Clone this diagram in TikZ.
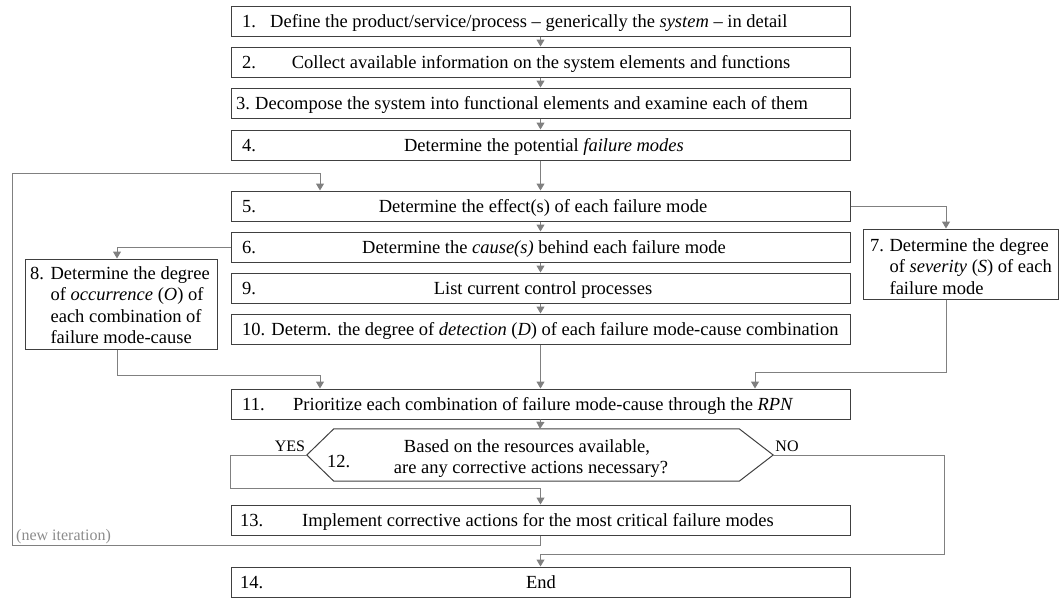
\documentclass[tikz,border=0pt]{standalone}
\usepackage{fontspec}
\setmainfont{Liberation Serif}
\usetikzlibrary{arrows.meta,calc}
\definecolor{boxc}{HTML}{404040}
\definecolor{arrc}{HTML}{808080}
\definecolor{itc}{HTML}{8C8C8C}
\begin{document}
\begin{tikzpicture}[x=1pt,y=-1pt,
  box/.style={draw=boxc, line width=1pt, minimum width=619pt, minimum height=30pt, inner sep=0pt},
  sbox/.style={draw=boxc, line width=1pt, inner sep=0pt},
  txt/.style={font=\fontsize{18.5}{21.5}\selectfont, inner sep=0pt},
  lbl/.style={font=\fontsize{16}{19}\selectfont, inner sep=0pt},
  arr/.style={draw=arrc, line width=1pt, -{Triangle[width=8pt,length=7pt]}},
  ln/.style={draw=arrc, line width=1pt}]
\useasboundingbox (0,0) rectangle (1059,598);

% main boxes
\node[box] (b1) at (540.5,21) {};
\node[box] (b2) at (540.5,62) {};
\node[box] (b3) at (540.5,103) {};
\node[box] (b4) at (540.5,145) {};
\node[box] (b5) at (540.5,206) {};
\node[box] (b6) at (540.5,247) {};
\node[box] (b9) at (540.5,288) {};
\node[box] (b10) at (540.5,329) {};
\node[box] (b11) at (540.5,404) {};
\node[box] (b13) at (540.5,520) {};
\node[box] (b14) at (540.5,582) {};
\node[sbox, minimum width=195pt, minimum height=70pt] (b7) at (960.5,264) {};
\node[sbox, minimum width=192pt, minimum height=90pt] (b8) at (121,304) {};
\node[inner sep=0pt, minimum width=466pt, minimum height=52pt] (d12) at (540,455) {};
\draw[draw=boxc, line width=1pt] (d12.west) -- ($(d12.north west)+(27,0)$) -- ($(d12.north east)+(-34,0)$) -- (d12.east) -- ($(d12.south east)+(-34,0)$) -- ($(d12.south west)+(27,0)$) -- cycle;

% texts
\node[txt, anchor=base west] (n1) at (242,27.5) {1.};
\node[txt, anchor=base west] (t1) at (270,27.5) {Define the product/service/process -- generically the \textit{system} -- in detail};
\node[txt, anchor=base west] (n2) at (242,68.5) {2.};
\node[txt, anchor=base] (t2) at (541,68.5) {Collect available information on the system elements and functions};
\node[txt, anchor=base west] (n3) at (236,109.5) {3.};
\node[txt, anchor=base west] (t3) at (255,109.5) {Decompose the system into functional elements and examine each of them};
\node[txt, anchor=base west] (n4) at (242,151.5) {4.};
\node[txt, anchor=base] (t4) at (544,151.5) {Determine the potential \textit{failure modes}};
\node[txt, anchor=base west] (n5) at (242,212.5) {5.};
\node[txt, anchor=base] (t5) at (543,212.5) {Determine the effect(s) of each failure mode};
\node[txt, anchor=base west] (n6) at (242,253.5) {6.};
\node[txt, anchor=base] (t6) at (544,253.5) {Determine the \textit{cause(s)} behind each failure mode};
\node[txt, anchor=base west] (n9) at (242,294.5) {9.};
\node[txt, anchor=base] (t9) at (543,294.5) {List current control processes};
\node[txt, anchor=base west] (t10) at (242,335.5) {10. Determ. the degree of \textit{detection} (\textit{D}) of each failure mode-cause combination};
\node[txt, anchor=base west] (n11) at (242,410.5) {11.};
\node[txt, anchor=base west] (t11) at (293,410.5) {Prioritize each combination of failure mode-cause through the \textit{RPN}};
\node[txt, anchor=base west] (n13) at (240,526.5) {13.};
\node[txt, anchor=base west] (t13) at (302,526.5) {Implement corrective actions for the most critical failure modes};
\node[txt, anchor=base west] (n14) at (240,588.5) {14.};
\node[txt, anchor=base] (t14) at (541,588.5) {End};

\node[txt, anchor=north west] (t7) at (870,236) {\begin{tabular}{@{}l@{\hspace{5.5pt}}l@{}}7. & Determine the degree\\ & of \textit{severity} (\textit{S}) of each\\ & failure mode\end{tabular}};
\node[txt, anchor=north west] (t8) at (30,264) {\begin{tabular}{@{}l@{\hspace{6.5pt}}l@{}}8. & Determine the degree\\ & of \textit{occurrence} (\textit{O}) of\\ & each combination of\\ & failure mode-cause\end{tabular}};

\node[txt, anchor=base west] (n12) at (327,467) {12.};
\node[txt, anchor=base] (t12a) at (527,452) {Based on the resources available,};
\node[txt, anchor=base] (t12b) at (531,473) {are any corrective actions necessary?};
\node[lbl, anchor=base] (yes) at (290,451) {YES};
\node[lbl, anchor=base] (no) at (787,451) {NO};
\node[lbl, anchor=base west, text=itc] (iter) at (16,540) {(new iteration)};

% connectors
\draw[arr] (b1.south) -- (b2.north);
\draw[arr] (b2.south) -- (b3.north);
\draw[arr] (b3.south) -- (b4.north);
\draw[arr] (b4.south) -- (b5.north);
\draw[arr] (b5.south) -- (b6.north);
\draw[arr] (b6.south) -- (b9.north);
\draw[arr] (b9.south) -- (b10.north);
\draw[arr] (b10.south) -- (b11.north);
\draw[arr] (b11.south) -- (d12.north);
\draw[arr] (b5.east) -| ($(b7.north)+(-14.5,0)$);
\draw[arr] ($(b7.south)+(-14.5,0)$) |- ($(b11.north)+(214.5,-16)$) -- ($(b11.north)+(214.5,0)$);
\draw[arr] (b6.west) -| ($(b8.north)+(-4,0)$);
\draw[arr] ($(b8.south)+(-4,0)$) |- ($(b11.north)+(-220.5,-13)$) -- ($(b11.north)+(-220.5,0)$);
\draw[arr] (d12.west) -- ++(-76,0) |- ($(b13.north)+(0,-16)$) -- (b13.north);
\draw[arr] (d12.east) -- ++(171,0) |- ($(b14.north)+(0,-12)$) -- (b14.north);
\draw[arr] (b13.south) -- ++(0,10) -| (12,173) -| ($(b5.north)+(-220.5,0)$);
\end{tikzpicture}
\end{document}
